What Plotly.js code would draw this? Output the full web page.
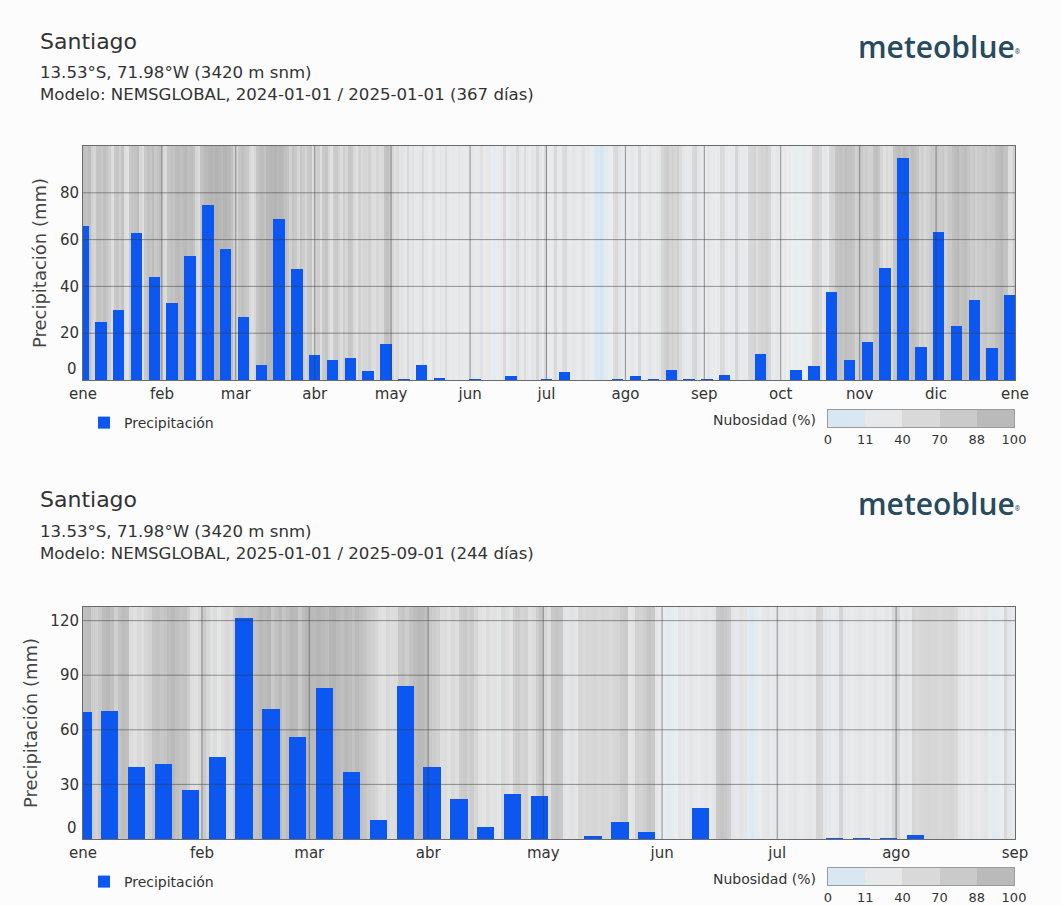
<!DOCTYPE html>
<html><head><meta charset="utf-8">
<script src="https://cdn.plot.ly/plotly-3.0.1.min.js"></script>
<style>html,body{margin:0;padding:0;background:#fcfcfc;} #chart{width:1062px;height:905px;}</style>
</head><body><div id="chart"></div>
<script>
// ---------- data ----------
const weeksTop = ['2024-01-01','2024-01-08','2024-01-15','2024-01-22','2024-01-29','2024-02-05','2024-02-12','2024-02-19','2024-02-26',
 '2024-03-04','2024-03-11','2024-03-18','2024-03-25','2024-04-01','2024-04-08','2024-04-15','2024-04-22','2024-04-29',
 '2024-05-06','2024-05-13','2024-05-20','2024-05-27','2024-06-03','2024-06-10','2024-06-17','2024-06-24',
 '2024-07-01','2024-07-08','2024-07-15','2024-07-22','2024-07-29','2024-08-05','2024-08-12','2024-08-19','2024-08-26',
 '2024-09-02','2024-09-09','2024-09-16','2024-09-23','2024-09-30','2024-10-07','2024-10-14','2024-10-21','2024-10-28',
 '2024-11-04','2024-11-11','2024-11-18','2024-11-25','2024-12-02','2024-12-09','2024-12-16','2024-12-23','2024-12-30'];
const precipTop = [66, 25, 30, 63, 44, 33, 53, 75, 56, 27, 6.5, 69, 47.5, 10.8, 8.7, 9.4, 4.0, 15.4,
 0.5, 6.3, 0.8, 0, 0.5, 0, 1.5, 0, 0.5, 3.3, 0, 0, 0.5, 1.8, 0.5, 4.3, 0.5, 0.5, 2.1, 0, 11.1, 0,
 4.3, 5.8, 37.5, 8.7, 16.4, 47.9, 95, 14.2, 63.4, 22.9, 34.2, 13.5, 36.4];

const weeksBottom = ['2025-01-01','2025-01-08','2025-01-15','2025-01-22','2025-01-29','2025-02-05','2025-02-12','2025-02-19','2025-02-26',
 '2025-03-05','2025-03-12','2025-03-19','2025-03-26','2025-04-02','2025-04-09','2025-04-16','2025-04-23','2025-04-30',
 '2025-05-07','2025-05-14','2025-05-21','2025-05-28','2025-06-04','2025-06-11','2025-06-18','2025-06-25',
 '2025-07-02','2025-07-09','2025-07-16','2025-07-23','2025-07-30','2025-08-06','2025-08-13','2025-08-20','2025-08-27'];
const precipBottom = [70, 70.6, 39.8, 41.2, 27, 45.3, 121.3, 71.5, 55.8, 82.9, 36.8, 10.6, 84.1, 39.8, 22.1, 6.4, 24.7, 23.4,
 0, 1.4, 9.1, 3.6, 0, 16.8, 0, 0, 0, 0, 0.5, 0.5, 0.5, 2.4, 0, 0, 0];

// daily cloud cover (%) from 2024-01-01
const cloudTop = [
 90,88,92,70,60,85,88,80,90,85, 75,45,80,85,70,88,50,40,80,85, 88,92,60,45,82,90,88,92,80,88,
 90,55,50,85,90,88,92,94,90,93, 95,90,92,88,60,50,88,92,95,97, 98,96,99,97,95,98,96,94,90,70,
 55,85,90,88,80,60,45,60,85,90, 92,88,95,97,96,98,95,97,94,90, 85,70,88,80,60,85,75,60,80,85,
 50,70,75,45,80,85,60,40,75,80, 70,50,75,60,85,80,55,40,70,55, 65,60,70,50,45,60,50,55,85,90,
 80,60,40,55,30,35,25,55,30,40, 25,25,30,55,30,25,20,40,25,20, 30,25,50,25,20,25,20,30,25,20,
 20,25,30,25,20,25,40,20,25,25, 15,8,10,20,25,55,20,25,30,25, 55,30,20,50,25,20,30,25,60,30,
 20,55,25,20,25,55,25,20,50,55, 25,20,30,25,20,25,40,20,25,15, 8,5,6,4,7,8,10,15,50,55,
 30,25,20,25,20,30,25,20,55,25, 20,25,30,25,20,25,30,60,70,75, 65,70,60,72,50,30,25,20,25,55,
 60,30,20,25,20,30,25,20,15,20, 55,50,25,20,25,20,60,30,20,25, 20,55,60,65,50,60,70,65,72,60,
 25,20,30,25,20,25,15,20,12,10, 11,12,14,10,12,20,60,65,70,55, 25,30,20,60,65,85,88,90,85,92,
 88,90,85,70,75,80,70,75,65,70, 88,90,85,60,40,55,45,50,85,90, 92,88,95,90,88,92,90,85,60,70,
 55,65,75,80,78,82,75,80,70,78, 80,90,92,95,88,90,92,85,75,80, 70,78,75,80,85,78,82,80,90,92,
 95,90,88,50,45,75,80];
// daily cloud cover (%) from 2025-01-01
const cloudBottom = [
 90,92,75,70,80,92,95,90,70,88, 92,90,50,40,55,45,60,70,85,88, 82,86,92,95,90,85,88,75,45,40,
 55,80,60,40,50,30,45,55,50,75, 85,88,80,85,88,90,95,92,96,80, 90,95,85,92,96,94,80,92,96,95,
 94,97,95,92,96,98,94,90,95,92, 88,94,90,85,75,70,60,45,40,55, 45,50,80,85,75,88,92,95,94,90,
 80,75,70,45,50,40,55,45,75,80, 70,78,60,40,30,45,35,40,30,55, 45,35,70,75,65,70,40,50,75,85,
 60,45,80,85,80,35,30,40,30,60, 55,60,58,62,55,60,58,55,60,62, 75,78,30,35,70,65,72,85,80,30,
 25,10,8,9,12,30,25,20,30,25, 20,25,30,25,30,80,85,82,75,30, 25,35,30,8,6,9,10,25,30,20,
 25,30,25,20,25,30,25,20,25,30, 25,65,60,30,25,20,25,65,30,25, 20,25,30,25,20,25,30,25,20,30,
 25,55,60,25,30,25,60,55,58,60, 62,58,60,55,60,58,62,55,30,25, 20,30,25,20,25,30,10,8,9,10,
 55,30,25,20];

const monthTicksTop = ['2024-01-01','2024-02-01','2024-03-01','2024-04-01','2024-05-01','2024-06-01','2024-07-01',
 '2024-08-01','2024-09-01','2024-10-01','2024-11-01','2024-12-01','2025-01-01'];
const monthLabelsTop = ['ene','feb','mar','abr','may','jun','jul','ago','sep','oct','nov','dic','ene'];
const monthTicksBottom = ['2025-01-01','2025-02-01','2025-03-01','2025-04-01','2025-05-01','2025-06-01','2025-07-01','2025-08-01','2025-09-01'];
const monthLabelsBottom = ['ene','feb','mar','abr','may','jun','jul','ago','sep'];
const yTicksTop = [0, 20, 40, 60, 80];
const yTicksBottom = [0, 30, 60, 90, 120];
const cloudLegendLabels = ['0','11','40','70','88','100'];
const cloudLegendZ = [5, 25, 55, 79, 94];

// ---------- style ----------
const FONT = 'DejaVu Sans, Verdana, sans-serif';
const TXT = '#333333';
const BAR = '#0b57f0';
const GRID = 'rgba(60,60,60,0.5)';
const FRAME = '#6b6b6b';
const DAY = 86400000;
const yMaxTop = 100, yMaxBottom = 127.5;
const cloudScale = [[0,'#c8e2f2'],[0.11,'#ebeef0'],[0.4,'#e1e1e1'],[0.7,'#d1d1d1'],[0.88,'#c3c3c3'],[1,'#b1b1b1']];

function gridTrace(xa, ya, xr, ticks, months, ymax) {
  const x = [], y = [];
  ticks.forEach(v => { if (v > 0) { x.push(xr[0], xr[1], null); y.push(v, v, null); } });
  months.slice(1, -1).forEach(m => { x.push(m, m, null); y.push(0, ymax, null); });
  return {type:'scatter', mode:'lines', x, y, xaxis:xa, yaxis:ya, line:{color:GRID, width:1},
          hoverinfo:'skip', showlegend:false};
}

const rTop = [monthTicksTop[0], monthTicksTop[monthTicksTop.length-1]];
const rBot = [monthTicksBottom[0], monthTicksBottom[monthTicksBottom.length-1]];

const data = [
  {type:'heatmap', xaxis:'x', yaxis:'y', z:[cloudTop], x0:'2024-01-01 12:00', dx:DAY, y:[0, yMaxTop],
   colorscale:cloudScale, zmin:0, zmax:100, showscale:false, hoverinfo:'skip'},
  gridTrace('x','y', rTop, yTicksTop, monthTicksTop, yMaxTop),
  {type:'bar', xaxis:'x', yaxis:'y', x:weeksTop, y:precipTop, width:4.5*DAY, marker:{color:BAR},
   name:'Precipitación', legend:'legend', showlegend:true},

  {type:'heatmap', xaxis:'x2', yaxis:'y2', z:[cloudBottom], x0:'2025-01-01 12:00', dx:DAY, y:[0, yMaxBottom],
   colorscale:cloudScale, zmin:0, zmax:100, showscale:false, hoverinfo:'skip'},
  gridTrace('x2','y2', rBot, yTicksBottom, monthTicksBottom, yMaxBottom),
  {type:'bar', xaxis:'x2', yaxis:'y2', x:weeksBottom, y:precipBottom, width:4.5*DAY, marker:{color:BAR},
   name:'Precipitación', legend:'legend2', showlegend:true},

  {type:'heatmap', xaxis:'x3', yaxis:'y3', z:[cloudLegendZ], x:[0,1,2,3,4,5], y:[0,1],
   colorscale:cloudScale, zmin:0, zmax:100, showscale:false, hoverinfo:'skip'},
  {type:'heatmap', xaxis:'x4', yaxis:'y4', z:[cloudLegendZ], x:[0,1,2,3,4,5], y:[0,1],
   colorscale:cloudScale, zmin:0, zmax:100, showscale:false, hoverinfo:'skip'}
];

const xDom = [83/1062, 1015/1062];
function xAxis(range, vals, labels, anchor) {
  return {domain:xDom, type:'date', range, tickmode:'array', tickvals:vals, ticktext:labels,
    showgrid:false, zeroline:false, showline:true, mirror:true, linecolor:FRAME, linewidth:1,
    ticks:'', tickfont:{family:FONT, size:15, color:TXT}, anchor, fixedrange:true};
}
// the zero label is drawn separately, lifted above the x tick labels as in the original
function yAxis(dom, range, ticks, anchor) {
  return {domain:dom, range, tickmode:'array', tickvals:ticks.slice(1), showgrid:false, zeroline:false,
    showline:true, mirror:true, linecolor:FRAME, linewidth:1, ticks:'',
    tickfont:{family:FONT, size:15, color:TXT}, anchor, fixedrange:true,
    title:{text:'Precipitación (mm)', font:{family:FONT, size:18, color:'#444'}, standoff:8}};
}
function legAxisX(anchor) {
  return {domain:[828/1062, 1014/1062], range:[0,5], tickmode:'array', tickvals:[0,1,2,3,4,5],
    ticktext:cloudLegendLabels, showgrid:false, zeroline:false, showline:true, mirror:true,
    linecolor:'#9a9a9a', ticks:'', tickfont:{family:FONT, size:13, color:TXT}, anchor, fixedrange:true};
}
function legAxisY(dom, anchor) {
  return {domain:dom, range:[0,1], showticklabels:false, showgrid:false, zeroline:false,
    showline:true, mirror:true, linecolor:'#9a9a9a', ticks:'', anchor, fixedrange:true};
}
const py = v => (905 - v) / 905;

function ann(text, x, y, size, xanchor, extra) {
  return Object.assign({text, x, y, xref:'paper', yref:'paper', xanchor, yanchor:'middle', showarrow:false,
    font:{family:FONT, size, color:TXT}}, extra || {});
}
function zeroLabel(xref, yref, v) {
  return {text:String(v), xref, x:0, yref, y:v, xanchor:'right', yanchor:'middle', xshift:-4, yshift:11,
    showarrow:false, font:{family:FONT, size:15, color:TXT}};
}
const logoFont = {family:'Open Sans, sans-serif', size:30, color:'#284a5e', weight:600};
const logoText = 'meteoblue<span style="font-size:9px"><sup>®</sup></span>';

const layout = {
  width:1062, height:905, autosize:false, margin:{l:0, r:0, t:0, b:0},
  paper_bgcolor:'#fcfcfc', plot_bgcolor:'#e6e6e6', bargap:0,
  xaxis: xAxis(rTop, monthTicksTop, monthLabelsTop, 'y'),
  yaxis: yAxis([py(380), py(146)], [0, yMaxTop], yTicksTop, 'x'),
  xaxis2: xAxis(rBot, monthTicksBottom, monthLabelsBottom, 'y2'),
  yaxis2: yAxis([py(839), py(607)], [0, yMaxBottom], yTicksBottom, 'x2'),
  xaxis3: legAxisX('y3'), yaxis3: legAxisY([py(427), py(410)], 'x3'),
  xaxis4: legAxisX('y4'), yaxis4: legAxisY([py(885), py(868)], 'x4'),
  legend: {x:84/1062, y:py(423), xanchor:'left', yanchor:'middle', bgcolor:'rgba(0,0,0,0)',
           font:{family:FONT, size:14, color:TXT}},
  legend2: {x:84/1062, y:py(882), xanchor:'left', yanchor:'middle', bgcolor:'rgba(0,0,0,0)',
           font:{family:FONT, size:14, color:TXT}},
  annotations: [
    ann('Santiago', 38/1062, py(41), 22, 'left'),
    ann('13.53°S, 71.98°W (3420 m snm)', 38/1062, py(73), 16.6, 'left'),
    ann('Modelo: NEMSGLOBAL, 2024-01-01 / 2025-01-01 (367 días)', 38/1062, py(95), 16.6, 'left'),
    ann(logoText, 1022/1062, py(46), 30, 'right', {font:logoFont}),
    ann('Nubosidad (%)', 818/1062, py(420), 14, 'right'),
    zeroLabel('x domain', 'y', yTicksTop[0]),

    ann('Santiago', 38/1062, py(499), 22, 'left'),
    ann('13.53°S, 71.98°W (3420 m snm)', 38/1062, py(531), 16.6, 'left'),
    ann('Modelo: NEMSGLOBAL, 2025-01-01 / 2025-09-01 (244 días)', 38/1062, py(553), 16.6, 'left'),
    ann(logoText, 1022/1062, py(503), 30, 'right', {font:logoFont}),
    ann('Nubosidad (%)', 818/1062, py(879), 14, 'right'),
    zeroLabel('x2 domain', 'y2', yTicksBottom[0])
  ]
};

Plotly.newPlot('chart', data, layout, {displayModeBar:false, staticPlot:true});
</script></body></html>
